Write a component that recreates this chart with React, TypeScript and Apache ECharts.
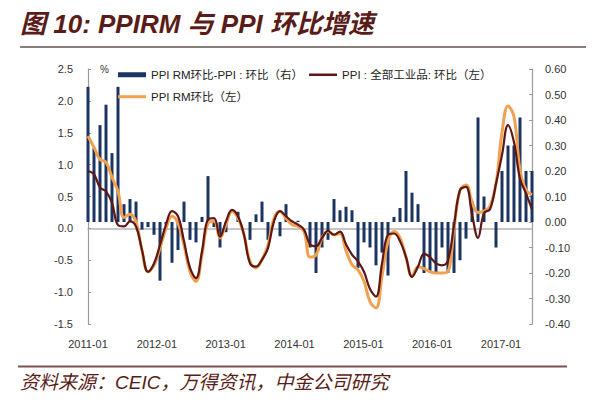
import React, { useEffect, useRef } from 'react';
import * as echarts from 'echarts';

// Monthly categories 2011-01 .. 2017-03
const months: string[] = [];
for (let y = 2011; y <= 2017; y++) {
  for (let m = 1; m <= 12; m++) {
    if (y === 2017 && m > 3) break;
    months.push(`${y}-${m < 10 ? '0' + m : m}`);
  }
}

// PPI RM mom minus PPI mom (right axis)
const spreadRight = [
  0.53, 0.29, 0.38, 0.46, 0.27, 0.53, 0.07, 0.09, 0.08, -0.03,
  -0.02, -0.05, -0.23, -0.01, -0.16, -0.11, 0.08, -0.07, -0.08, 0.02,
  0.18, -0.02, -0.1, -0.04, 0.0, 0.04, 0.0, -0.07, 0.03, 0.08,
  -0.07, 0.0, -0.056, 0.07, 0.005, 0.005, 0.0, -0.1, -0.2, -0.1,
  -0.07, 0.09, 0.046, 0.06, 0.046, -0.18, -0.08, -0.1, -0.17, -0.12,
  -0.21, 0.02, 0.055, 0.2, 0.115, 0.07, -0.2, -0.2, -0.2, -0.1,
  -0.2, -0.2, -0.15, -0.065, 0.08, 0.41, 0.1, 0.0, -0.1, 0.2,
  0.3, 0.3, 0.41, 0.2, 0.2,
];

// PPI: all industrial products, mom (left axis)
const ppiMom = [
  0.9, 0.85, 0.64, 0.58, 0.4, 0.05, 0.03, 0.11, 0.03, -0.34,
  -0.68, -0.55, -0.26, 0.06, 0.27, 0.19, -0.2, -0.62, -0.78, -0.36,
  0.14, 0.16, -0.13, 0.11, 0.29, 0.19, -0.1, -0.55, -0.6, -0.49,
  -0.31, 0.11, 0.27, 0.19, 0.11, 0.06, -0.02, -0.25, -0.28, -0.15,
  -0.04, -0.1, -0.05, -0.25, -0.41, -0.52, -0.68, -0.95, -1.07, -0.55,
  -0.1, -0.08, -0.2, -0.45, -0.76, -0.6, -0.4, -0.45, -0.55, -0.58,
  -0.5, 0.05, 0.6, 0.65, 0.22, -0.15, 0.24, 0.3, 0.7, 1.15,
  1.62, 1.35, 0.78, 0.55, 0.3,
];

// PPI RM mom (left axis)
const ppirmMom = [
  1.45, 1.27, 1.08, 1.04, 0.8, 0.58, 0.17, 0.22, 0.1, -0.35,
  -0.68, -0.58, -0.31, 0.0, 0.19, 0.08, -0.26, -0.68, -0.83, -0.41,
  0.08, 0.11, -0.15, 0.06, 0.27, 0.16, -0.1, -0.52, -0.62, -0.49,
  -0.26, 0.16, 0.27, 0.16, 0.06, 0.03, -0.05, -0.45, -0.42, -0.15,
  -0.05, -0.1, -0.08, -0.35, -0.57, -0.65, -0.83, -1.15, -1.25, -0.75,
  -0.2, -0.05, -0.15, -0.45, -0.75, -0.6, -0.63, -0.68, -0.7, -0.7,
  -0.68, 0.0, 0.6, 0.68, 0.42, 0.25, 0.27, 0.35, 0.7, 1.5,
  1.92, 1.75, 0.92, 0.6, 0.53,
];

const yearLabels = ['2011-01', '2012-01', '2013-01', '2014-01', '2015-01', '2016-01', '2017-01'];

const NAME_BAR = 'PPI RM环比-PPI : 环比（右）';
const NAME_PPI = 'PPI : 全部工业品: 环比（左）';
const NAME_RM = 'PPI RM环比（左）';

const FONT = '"Liberation Sans", "Noto Sans CJK SC", sans-serif';
const TITLE_COLOR = '#5a1c18';
const BAR_COLOR = '#1c3461';
const PPI_COLOR = '#5e1616';
const RM_COLOR = '#f0a04e';

export default function App() {
  const ref = useRef<HTMLDivElement>(null);
  useEffect(() => {
    if (!ref.current) return;
    const chart = echarts.init(ref.current, undefined, { renderer: 'svg' });
    const legendText = { color: '#222', fontSize: 11.5, fontFamily: FONT };
    chart.setOption({
      animation: false,
      backgroundColor: '#fff',
      textStyle: { fontFamily: FONT },
      grid: { left: 88, right: 68, top: 69, bottom: 83 },
      legend: [
        {
          left: 118, top: 69, itemWidth: 28, itemHeight: 5, itemGap: 6, padding: 0,
          data: [
            { name: NAME_BAR, icon: 'rect' },
            { name: NAME_PPI, icon: 'path://M0,0L28,0L28,2.5L0,2.5Z' },
          ],
          textStyle: legendText,
        },
        {
          left: 118, top: 91, itemWidth: 28, itemHeight: 5, itemGap: 6, padding: 0,
          data: [{ name: NAME_RM, icon: 'path://M0,0L28,0L28,3L0,3Z' }],
          textStyle: legendText,
        },
      ],
      xAxis: [
        {
          type: 'category', data: months, boundaryGap: false,
          axisLine: { onZero: true, onZeroAxisIndex: 0, lineStyle: { color: '#b4b4b4', width: 1.5 } },
          axisTick: { show: false }, axisLabel: { show: false }, splitLine: { show: false },
        },
        {
          type: 'value', min: 0, max: 6.45, interval: 1, position: 'bottom',
          axisLine: { show: false }, axisTick: { show: false }, splitLine: { show: false },
          axisLabel: {
            formatter: (v: number) => yearLabels[v] ?? '', showMaxLabel: false,
            margin: 14, color: '#333', fontSize: 11, fontFamily: FONT,
          },
        },
      ],
      yAxis: [
        {
          type: 'value', min: -1.5, max: 2.5, interval: 0.5,
          axisLine: { show: true, lineStyle: { color: '#9a9a9a', width: 1.2 } },
          axisTick: { show: true, inside: true, length: 3, lineStyle: { color: '#9a9a9a' } },
          splitLine: { show: false },
          axisLabel: { formatter: (v: number) => v.toFixed(1), margin: 15, color: '#333', fontSize: 11, fontFamily: FONT },
        },
        {
          type: 'value', min: -0.4, max: 0.6, interval: 0.1, position: 'right',
          axisLine: { show: true, lineStyle: { color: '#9a9a9a', width: 1.2 } },
          axisTick: { show: true, inside: true, length: 3, lineStyle: { color: '#9a9a9a' } },
          splitLine: { show: false },
          axisLabel: { formatter: (v: number) => v.toFixed(2), margin: 13, color: '#333', fontSize: 11, fontFamily: FONT },
        },
      ],
      series: [
        {
          name: NAME_BAR, type: 'bar', xAxisIndex: 0, yAxisIndex: 1, data: spreadRight,
          barWidth: 3, itemStyle: { color: BAR_COLOR }, z: 1,
        },
        {
          name: NAME_PPI, type: 'line', xAxisIndex: 0, yAxisIndex: 0, data: ppiMom,
          smooth: 0.4, symbol: 'none', lineStyle: { color: PPI_COLOR, width: 2.2 },
          itemStyle: { color: PPI_COLOR }, z: 4,
        },
        {
          name: NAME_RM, type: 'line', xAxisIndex: 0, yAxisIndex: 0, data: ppirmMom,
          smooth: 0.4, symbol: 'none', lineStyle: { color: RM_COLOR, width: 3 },
          itemStyle: { color: RM_COLOR }, z: 3,
        },
      ],
      graphic: [
        {
          type: 'text', left: 20, top: 11,
          style: {
            text: '图 10: PPIRM 与 PPI 环比增速', fill: TITLE_COLOR,
            font: `italic bold 26px ${FONT}`,
          },
        },
        { type: 'rect', shape: { x: 20, y: 46, width: 566, height: 2 }, style: { fill: '#8a7d7a' } },
        {
          type: 'text', left: 100, top: 64,
          style: { text: '%', fill: '#333', font: `10px ${FONT}` },
        },
        { type: 'rect', shape: { x: 18, y: 365.5, width: 549, height: 2 }, style: { fill: '#7a5550' } },
        {
          type: 'text', left: 20, top: 373,
          style: {
            text: '资料来源：CEIC，万得资讯，中金公司研究', fill: TITLE_COLOR,
            font: `italic 19px ${FONT}`,
          },
        },
        { type: 'rect', shape: { x: 18, y: 404, width: 549, height: 2 }, style: { fill: '#8a8a8a' } },
      ],
    });
    return () => chart.dispose();
  }, []);
  return <div ref={ref} style={{ width: 600, height: 407, margin: -8 }} />;
}
